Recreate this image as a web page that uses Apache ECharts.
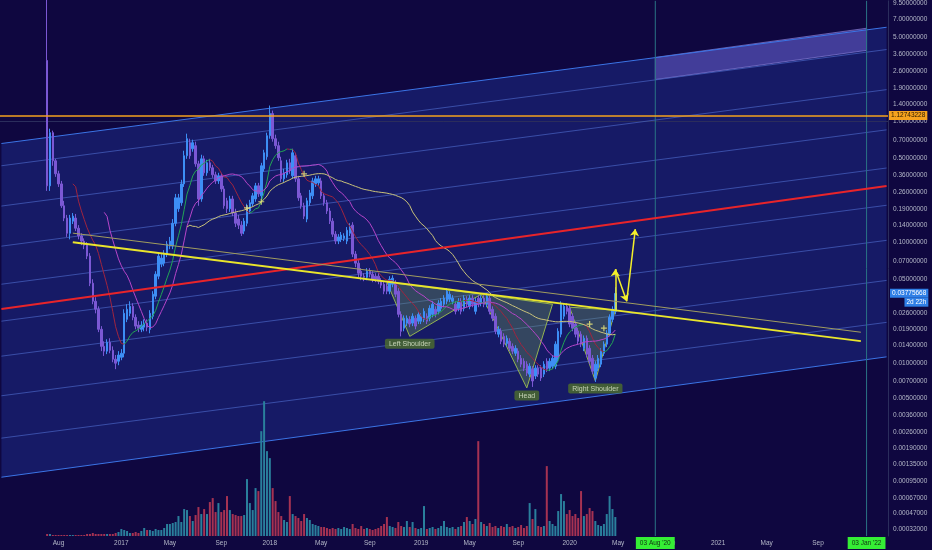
<!DOCTYPE html>
<html><head><meta charset="utf-8">
<script src="https://cdn.jsdelivr.net/npm/echarts@6/dist/echarts.min.js"></script>
<style>html,body{margin:0;padding:0;background:#0f0740;}#c{width:932px;height:550px;}</style>
</head><body><div id="c"></div><script>
// ---------- data ----------
const slotStart = '2016-03-14';          // first weekly slot on the time axis
const slotCount = 311;                    // weekly slots shown (incl. future space)
const firstCandleDate = '2016-07-04';

const opens = [
3.21,0.294,0.810,0.474,0.370,0.305,0.201,0.159,0.119,0.150,
0.159,0.131,0.113,0.1025,0.0949,0.0770,0.0459,0.0325,0.0279,0.0190,
0.0137,0.0125,0.0148,0.0127,0.0107,0.0103,0.0111,0.0120,0.0230,0.0258,
0.0295,0.0239,0.0206,0.0190,0.0198,0.0214,0.0190,0.0244,0.0358,0.0525,
0.0660,0.0673,0.0800,0.0932,0.0932,0.144,0.190,0.213,0.305,0.522,
0.669,0.596,0.632,0.447,0.229,0.492,0.377,0.456,0.415,0.363,
0.323,0.356,0.277,0.221,0.190,0.229,0.175,0.156,0.139,0.124,
0.144,0.182,0.209,0.229,0.294,0.243,0.407,0.512,0.765,1.165,
0.722,0.632,0.474,0.336,0.363,0.456,0.356,0.522,0.336,0.243,
0.201,0.156,0.213,0.243,0.305,0.311,0.323,0.243,0.213,0.182,
0.150,0.117,0.1025,0.106,0.108,0.1025,0.119,0.139,0.0800,0.0673,
0.0577,0.0525,0.0514,0.0577,0.0545,0.0525,0.0525,0.0477,0.0450,0.0434,
0.0394,0.0450,0.0459,0.0394,0.0253,0.0194,0.0214,0.0230,0.0214,0.0235,
0.0222,0.0222,0.0230,0.0244,0.0235,0.0253,0.0279,0.0268,0.0284,0.0307,
0.0325,0.0338,0.0325,0.0307,0.0284,0.0325,0.0284,0.0338,0.0295,0.0345,
0.0268,0.0345,0.0313,0.0345,0.0307,0.0345,0.0279,0.0244,0.0173,0.0183,
0.0166,0.0145,0.0151,0.0137,0.0120,0.0125,0.0109,0.0103,0.00972,0.00803,
0.00884,0.00774,0.00901,0.00901,0.00803,0.0103,0.00901,0.00936,0.00936,0.0107,
0.0173,0.0244,0.0295,0.0284,0.0244,0.0210,0.0183,0.0173,0.0132,0.0160,
0.0132,0.0109,0.00745,0.00901,0.00972,0.0120,0.0143,0.0176,0.0230,0.0268];

const closes = [
0.294,0.810,0.474,0.370,0.305,0.201,0.159,0.119,0.159,0.165,
0.131,0.113,0.1025,0.0949,0.0770,0.0459,0.0325,0.0279,0.0190,0.0137,
0.0125,0.0148,0.0127,0.0107,0.00991,0.0116,0.0120,0.0258,0.0279,0.0295,
0.0239,0.0202,0.0194,0.0206,0.0214,0.0198,0.0258,0.0372,0.0545,0.0770,
0.0741,0.0800,0.0968,0.1025,0.144,0.234,0.234,0.305,0.522,0.722,
0.522,0.669,0.447,0.229,0.492,0.377,0.456,0.415,0.363,0.323,
0.356,0.277,0.201,0.190,0.229,0.175,0.144,0.139,0.119,0.150,
0.197,0.213,0.243,0.294,0.252,0.431,0.552,0.765,1.165,0.722,
0.632,0.502,0.336,0.377,0.456,0.392,0.552,0.336,0.234,0.201,
0.165,0.221,0.257,0.323,0.336,0.336,0.243,0.213,0.182,0.150,
0.117,0.1025,0.111,0.115,0.113,0.126,0.136,0.0800,0.0673,0.0555,
0.0525,0.0514,0.0577,0.0545,0.0495,0.0495,0.0477,0.0442,0.0394,0.0394,
0.0495,0.0505,0.0372,0.0253,0.0183,0.0235,0.0235,0.0210,0.0244,0.0202,
0.0253,0.0244,0.0268,0.0222,0.0284,0.0307,0.0253,0.0313,0.0325,0.0345,
0.0394,0.0372,0.0345,0.0268,0.0325,0.0268,0.0345,0.0307,0.0345,0.0307,
0.0325,0.0307,0.0345,0.0307,0.0358,0.0268,0.0235,0.0183,0.0190,0.0151,
0.0143,0.0160,0.0132,0.0125,0.0132,0.0107,0.00972,0.00901,0.00819,0.00936,
0.00703,0.00901,0.00803,0.00745,0.00972,0.00884,0.0103,0.0109,0.0143,0.0183,
0.0307,0.0295,0.0268,0.0210,0.0194,0.0173,0.0151,0.0143,0.0160,0.0118,
0.0103,0.00851,0.00972,0.0109,0.0125,0.0143,0.0176,0.0239,0.0279,0.03775668];

const highs = [
12,0.874,0.842,0.492,0.392,0.323,0.221,0.169,0.169,0.175,
0.172,0.139,0.119,0.108,0.1006,0.0815,0.0495,0.0351,0.0295,0.0202,
0.0151,0.0157,0.0160,0.0137,0.0116,0.0125,0.0130,0.0279,0.0307,0.0325,
0.0313,0.0253,0.0222,0.0222,0.0230,0.0230,0.0274,0.0394,0.0577,0.0815,
0.0800,0.0863,0.1025,0.111,0.156,0.252,0.252,0.330,0.574,0.795,
0.722,0.709,0.682,0.474,0.532,0.522,0.483,0.492,0.439,0.385,
0.377,0.377,0.294,0.234,0.243,0.243,0.190,0.169,0.150,0.159,
0.209,0.225,0.257,0.311,0.311,0.456,0.585,0.810,1.359,1.234,
0.780,0.682,0.512,0.407,0.483,0.492,0.596,0.552,0.356,0.257,
0.213,0.234,0.272,0.343,0.356,0.356,0.343,0.257,0.225,0.193,
0.159,0.124,0.117,0.122,0.119,0.134,0.144,0.147,0.0847,0.0713,
0.0612,0.0555,0.0612,0.0612,0.0577,0.0555,0.0555,0.0505,0.0477,0.0459,
0.0525,0.0534,0.0486,0.0417,0.0268,0.0248,0.0248,0.0244,0.0258,0.0248,
0.0268,0.0258,0.0284,0.0258,0.0301,0.0325,0.0295,0.0332,0.0345,0.0365,
0.0417,0.0394,0.0365,0.0325,0.0345,0.0345,0.0365,0.0358,0.0365,0.0365,
0.0345,0.0365,0.0365,0.0365,0.0379,0.0365,0.0295,0.0258,0.0202,0.0194,
0.0176,0.0169,0.0160,0.0145,0.0140,0.0132,0.0116,0.0109,0.0103,0.00991,
0.00936,0.00954,0.00954,0.00954,0.0103,0.0109,0.0109,0.0116,0.0151,0.0194,
0.0325,0.0313,0.0313,0.0301,0.0258,0.0222,0.0194,0.0183,0.0169,0.0169,
0.0140,0.0116,0.0103,0.0116,0.0132,0.0151,0.0187,0.0253,0.0295,0.0425];

const lows = [
0.267,0.267,0.431,0.349,0.288,0.193,0.150,0.111,0.106,0.142,
0.124,0.106,0.0949,0.0879,0.0727,0.0434,0.0307,0.0258,0.0180,0.0125,
0.0114,0.0118,0.0120,0.0101,0.00884,0.00954,0.0105,0.0111,0.0218,0.0244,
0.0226,0.0190,0.0180,0.0180,0.0183,0.0183,0.0176,0.0230,0.0338,0.0495,
0.0623,0.0635,0.0755,0.0879,0.0879,0.136,0.179,0.201,0.288,0.492,
0.492,0.563,0.423,0.201,0.217,0.356,0.356,0.392,0.343,0.305,
0.305,0.262,0.190,0.175,0.179,0.165,0.134,0.129,0.113,0.117,
0.136,0.172,0.197,0.217,0.238,0.229,0.385,0.483,0.722,0.682,
0.596,0.474,0.317,0.317,0.343,0.370,0.336,0.317,0.221,0.190,
0.156,0.147,0.201,0.229,0.288,0.294,0.229,0.201,0.172,0.142,
0.111,0.0968,0.0968,0.1006,0.1025,0.0968,0.113,0.0755,0.0623,0.0514,
0.0486,0.0477,0.0486,0.0514,0.0468,0.0468,0.0450,0.0417,0.0372,0.0372,
0.0372,0.0425,0.0351,0.0239,0.0166,0.0183,0.0202,0.0198,0.0202,0.0190,
0.0210,0.0210,0.0218,0.0210,0.0222,0.0239,0.0239,0.0253,0.0268,0.0290,
0.0307,0.0319,0.0307,0.0253,0.0268,0.0253,0.0268,0.0290,0.0279,0.0290,
0.0253,0.0290,0.0295,0.0290,0.0290,0.0253,0.0222,0.0173,0.0163,0.0143,
0.0135,0.0137,0.0125,0.0118,0.0114,0.0101,0.00918,0.00851,0.00774,0.00759,
0.00627,0.00730,0.00759,0.00703,0.00759,0.00835,0.00851,0.00884,0.00884,0.0101,
0.0163,0.0230,0.0253,0.0198,0.0183,0.0163,0.0143,0.0135,0.0125,0.0111,
0.00972,0.00803,0.00690,0.00851,0.00918,0.0114,0.0135,0.0166,0.0218,0.0253];

const volumes = [
2,2,1,1,1,1,1,1,1,1, 1,1,1,1,2,2,3,2,2,2,
2,2,2,2,3,4,7,6,5,3, 3,4,3,5,8,6,6,5,7,6,
6,8,12,12,13,14,20,14,27,26, 20,15,21,29,22,27,22,34,38,24,
33,24,26,40,26,22,21,20,20,21, 57,33,26,48,45,105,135,85,78,48,
35,24,20,16,14,40,22,20,18,15, 22,18,16,12,11,10,9,9,8,7,
8,7,8,7,9,8,7,12,8,7, 10,7,8,7,6,7,8,10,12,19,
10,9,8,14,10,9,15,9,14,8, 7,8,30,7,8,9,7,8,10,15,
9,8,9,7,9,10,14,19,15,12, 17,95,14,12,10,13,9,10,8,10,
9,12,9,10,8,9,11,8,10,33, 17,27,10,9,10,70,15,12,10,25,
42,35,22,26,20,22,18,45,20,22, 28,25,15,11,10,12,22,40,27,19];

const priceTicks = ['9.50000000','7.00000000','5.00000000','3.60000000','2.60000000','1.90000000',
'1.40000000','1.00000000','0.70000000','0.50000000','0.36000000','0.26000000','0.19000000',
'0.14000000','0.10000000','0.07000000','0.05000000','0.02600000','0.01900000','0.01400000',
'0.01000000','0.00700000','0.00500000','0.00360000','0.00260000','0.00190000','0.00135000',
'0.00095000','0.00067000','0.00047000','0.00032000'];

const xTickDates = ['2016-08-01','2017-01-02','2017-05-01','2017-09-04','2018-01-01','2018-05-07',
'2018-09-03','2019-01-07','2019-05-06','2019-09-02','2020-01-06','2020-05-04','2020-09-07',
'2021-01-04','2021-05-03','2021-09-06'];
const xTickLabels = ['Aug','2017','May','Sep','2018','May','Sep','2019','May','Sep','2020','May','Sep','2021','May','Sep'];

const resistanceLevel = 1.12743228;
const lastPrice = 0.03775668;
const countdown = '2d 22h';

// channel (parallel lines), prices at left and right ends
const channelStartDate = '2016-03-14', channelEndDate = '2022-02-21';
const channelLeftPrices  = [0.659, 0.431, 0.200, 0.0931, 0.0450, 0.0222, 0.01135, 0.00528, 0.00230, 0.00104];
const channelRightPrices = [6.04, 3.95, 1.84, 0.855, 0.413, 0.203, 0.104, 0.0484, 0.0217, 0.0112];
const targetZone = [['2020-08-03', 3.40], ['2022-01-03', 5.93], ['2022-01-03', 3.89], ['2020-08-03', 2.23]];

const redTrend = [['2016-03-14', 0.0280], ['2022-02-21', 0.293]];
const yellowTrend = [['2016-09-05', 0.1004], ['2021-12-20', 0.01515]];
const necklineThin = [['2016-09-05', 0.1193], ['2021-12-20', 0.01797]];

const leftShoulder = [['2018-10-15', 0.0468], ['2018-12-10', 0.0166], ['2019-06-03', 0.0372]];
const headShape = [['2019-06-03', 0.0372], ['2019-09-23', 0.00615], ['2019-11-25', 0.0307]];
const rightShoulder = [['2020-01-06', 0.0290], ['2020-03-09', 0.00703], ['2020-04-27', 0.0274]];
const patternLabels = [['Left Shoulder','2018-12-10',0.0166], ['Head','2019-09-23',0.00615], ['Right Shoulder','2020-03-09',0.00703]];

const projection = [
  [['2020-04-27', 0.0274], ['2020-04-27', 0.0600]],
  [['2020-04-27', 0.0600], ['2020-05-25', 0.0325]],
  [['2020-05-25', 0.0325], ['2020-06-15', 0.129]]
];
const crossMarks = [['2017-11-06', 0.193], ['2017-12-11', 0.217], ['2018-03-26', 0.370], ['2020-02-24', 0.0210], ['2020-03-30', 0.0194]];
const dateMarkers = [['2020-08-03', "03 Aug '20"], ['2022-01-03', "03 Jan '22"]];

// ---------- build ----------
const C0 = 1e-4;
const f = p => Math.log10(p + C0);
const WEEK = 7 * 86400000;
const t0 = Date.parse(slotStart + 'T00:00:00Z');
const slotDates = [];
for (let k = 0; k < slotCount; k++) slotDates.push(new Date(t0 + k * WEEK).toISOString().slice(0, 10));
const slotIndex = {}; slotDates.forEach((d, i) => slotIndex[d] = i);
const firstSlot = slotIndex[firstCandleDate];
const pt = a => [slotIndex[a[0]], f(a[1])];

const yMax = f(1) + 1.0, yMin = f(1) - 415 / 121;

const UP = '#3d8ef5', DN = '#7b58d4', VUP = '#2a7f9c', VDN = '#a63252';
const candleData = slotDates.map(() => '-');
const volData = slotDates.map(() => '-');
closes.forEach((c, i) => {
  const k = firstSlot + i;
  candleData[k] = [f(opens[i]), f(c), f(lows[i]), f(highs[i])];
  volData[k] = { value: volumes[i], itemStyle: { color: c >= opens[i] ? VUP : VDN } };
});

function sma(n) {
  const out = new Array(closes.length).fill(null);
  for (let i = n - 1; i < closes.length; i++) { let s = 0; for (let j = i - n + 1; j <= i; j++) s += closes[j]; out[i] = s / n; }
  return out;
}
const toPts = arr => arr.map((v, i) => v == null ? null : [firstSlot + i, f(v)]).filter(Boolean);
const ma10 = sma(10), ma21 = sma(21), ma50 = sma(50);
const runs = []; let cur = null;
for (let i = 10; i < closes.length; i++) {
  const dir = ma10[i] >= ma10[i - 1] ? 'up' : 'dn';
  if (!cur || cur.dir !== dir) { cur = { dir, pts: [[firstSlot + i - 1, f(ma10[i - 1])]] }; runs.push(cur); }
  cur.pts.push([firstSlot + i, f(ma10[i])]);
}

const tickMap = {}; xTickDates.forEach((d, i) => tickMap[d] = xTickLabels[i]);
const yTickVals = priceTicks.map(s => f(parseFloat(s)));

const lineSeries = (pts, color, width, z) => ({ type: 'line', data: pts, showSymbol: false, silent: true, animation: false, z: z || 5, lineStyle: { color, width }, clip: true });

const polys = [];
const cs = channelLeftPrices.length;
polys.push({ pts: [[channelStartDate, channelLeftPrices[0]], [channelEndDate, channelRightPrices[0]], [channelEndDate, channelRightPrices[cs - 1]], [channelStartDate, channelLeftPrices[cs - 1]]], fill: '#161a66', stroke: 'none', lw: 0 });
polys.push({ pts: targetZone, fill: 'rgba(120,105,215,0.45)', stroke: 'rgba(150,140,230,0.6)', lw: 1 });
const patternPolys = [leftShoulder, headShape, rightShoulder].map(p => ({ pts: p, fill: 'rgba(105,150,85,0.36)', stroke: '#93b352', lw: 1 }));

const series = [];
series.push({ type: 'custom', z: 0, silent: true, animation: false,
  renderItem: (params, api) => { const s = polys[params.dataIndex]; return { type: 'polygon', shape: { points: s.pts.map(p => api.coord(pt(p))) }, style: { fill: s.fill, stroke: s.stroke, lineWidth: s.lw } }; },
  data: polys.map((s, i) => [i, 0]) });
channelLeftPrices.forEach((lp, i) => {
  const edge = (i === 0 || i === cs - 1);
  series.push(lineSeries([pt([channelStartDate, lp]), pt([channelEndDate, channelRightPrices[i]])], edge ? '#3b74e6' : 'rgba(70,95,190,0.75)', 1, 1));
});
// vertical date lines drawn through the axis scales
dateMarkers.forEach(m => series.push(lineSeries([[slotIndex[m[0]], yMin], [slotIndex[m[0]], yMax]], '#2a7485', 1, 2)));
series.push({ type: 'bar', yAxisIndex: 1, data: volData, barWidth: 2, silent: true, animation: false, z: 2 });
series.push({ type: 'custom', z: 3, silent: true, animation: false,
  renderItem: (params, api) => { const s = patternPolys[params.dataIndex]; return { type: 'polygon', shape: { points: s.pts.map(p => api.coord(pt(p))) }, style: { fill: s.fill, stroke: s.stroke, lineWidth: s.lw } }; },
  data: patternPolys.map((s, i) => [i, 0]) });
series.push({ type: 'candlestick', data: candleData, barWidth: 2, silent: true, animation: false, z: 4,
  itemStyle: { color: UP, color0: DN, borderColor: UP, borderColor0: DN, borderWidth: 1 },
  markLine: { silent: true, animation: false, symbol: ['none', 'none'],
    data: [
      ...dateMarkers.map(m => ({ xAxis: m[0], lineStyle: { color: 'rgba(0,0,0,0)', width: 1, type: 'solid' },
        label: { show: true, position: 'start', distance: 1, formatter: m[1], backgroundColor: '#35ee35', color: '#123012', padding: [3, 4, 2, 4], fontSize: 6.5, fontFamily: 'Liberation Sans' } })),
      { yAxis: f(resistanceLevel), lineStyle: { color: '#f5a21e', width: 1.5, type: 'solid' },
        label: { show: true, position: 'end', distance: 1, formatter: resistanceLevel.toFixed(8), backgroundColor: '#f5a21e', color: '#2a1a00', padding: [1, 2], fontSize: 6.5, fontFamily: 'Liberation Sans' } },
      { yAxis: f(lastPrice), lineStyle: { color: 'rgba(0,0,0,0)', width: 1, type: 'solid' },
        label: { show: true, position: 'end', distance: 2, formatter: '{c|' + countdown + '}\n{a|' + lastPrice.toFixed(8) + '}\n{b|' + countdown + '}',
          rich: { a: { backgroundColor: '#2f7fe6', color: '#fff', padding: [1, 2], fontSize: 6.5, lineHeight: 9, fontFamily: 'Liberation Sans' },
                  b: { backgroundColor: '#2f7fe6', color: '#fff', padding: [1, 2], fontSize: 6.5, lineHeight: 9, align: 'right', fontFamily: 'Liberation Sans' },
                  c: { color: 'rgba(0,0,0,0)', padding: [1, 2], fontSize: 6.5, lineHeight: 9 } } } }
    ] } });
runs.forEach(r => series.push(lineSeries(r.pts, r.dir === 'up' ? '#22a455' : '#a0243f', 1, 5)));
series.push(lineSeries(toPts(ma21), '#b645c9', 1, 5));
series.push(lineSeries(toPts(ma50), '#c9c27a', 1, 5));
series.push(lineSeries(redTrend.map(pt), '#e8242a', 2, 6));
series.push(lineSeries(necklineThin.map(pt), '#a19d5e', 1, 6));
series.push(lineSeries(yellowTrend.map(pt), '#e9e52c', 2, 6));
series.push({ type: 'scatter', data: crossMarks.map(pt), symbol: 'path://M4,0h2v4h4v2h-4v4h-2v-4h-4v-2h4z', symbolSize: 6, itemStyle: { color: '#f3ef7a' }, silent: true, animation: false, z: 7 });
series.push({ type: 'scatter', data: patternLabels.map(l => ({ name: l[0], value: pt([l[1], l[2]]) })), symbolSize: 1, itemStyle: { color: 'rgba(0,0,0,0)' }, silent: true, animation: false, z: 8,
  label: { show: true, position: 'bottom', distance: 2, formatter: '{b}', backgroundColor: '#4e6e2c', borderRadius: 2, padding: [2, 4, 1, 4], color: '#e4edd2', fontSize: 7, fontFamily: 'Liberation Sans' } });
series.push({ type: 'line', data: [], silent: true, animation: false, z: 8,
  markLine: { silent: true, animation: false, symbol: ['none', 'arrow'], symbolSize: 7,
    lineStyle: { color: '#f4f02a', width: 1.5, type: 'solid' }, label: { show: false },
    data: projection.map(s => [{ coord: pt(s[0]) }, { coord: pt(s[1]) }]) } });

const chart = echarts.init(document.getElementById('c'));
chart.setOption({
  backgroundColor: '#0f0740',
  animation: false,
  grid: { left: 0, right: 44, top: 0, bottom: 14 },
  xAxis: { type: 'category', data: slotDates, boundaryGap: true,
    axisLine: { show: true, lineStyle: { color: '#2b2d5c' } }, axisTick: { show: false }, splitLine: { show: false },
    axisLabel: { interval: (i, v) => tickMap[v] !== undefined, formatter: v => tickMap[v] || '', color: '#b4b8c8', fontSize: 6.5, margin: 4, fontFamily: 'Liberation Sans' } },
  yAxis: [
    { type: 'value', position: 'right', min: yMin, max: yMax, scale: true,
      axisLine: { show: true, lineStyle: { color: '#2b2d5c' } }, axisTick: { show: false }, splitLine: { show: false },
      axisLabel: { customValues: yTickVals, formatter: v => { for (let i = 0; i < yTickVals.length; i++) if (Math.abs(yTickVals[i] - v) < 1e-7) return priceTicks[i]; return ''; },
        color: '#b4b8c8', fontSize: 6.5, margin: 5, fontFamily: 'Liberation Sans' } },
    { type: 'value', min: 0, max: 536, show: false }
  ],
  series
});
</script></body></html>
